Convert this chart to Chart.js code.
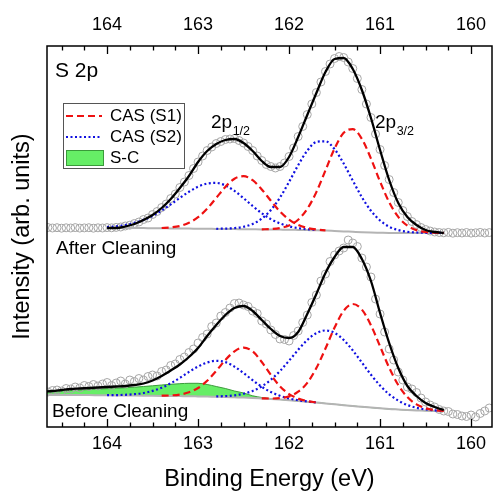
<!DOCTYPE html>
<html>
<head>
<meta charset="utf-8">
<script src="https://cdn.jsdelivr.net/npm/chart.js@4/dist/chart.umd.min.js"></script>
<style>
html,body{margin:0;padding:0;background:#fff;}
canvas{display:block;}
</style>
</head>
<body>
<canvas id="c" width="493" height="494"></canvas>
<script>
// ---------------- DATA (binding energy in eV, intensity in arb. units) ----------------
const X_MIN = 159.77, X_MAX = 164.66;
const Y_MIN = 0, Y_MAX = 381;
const AXIS_TICKS = [160,160.25,160.5,160.75,161,161.25,161.5,161.75,162,162.25,162.5,162.75,163,163.25,163.5,163.75,164,164.25,164.5];

// measured points (open circles)
const DATA_E = [164.65,164.60,164.55,164.50,164.45,164.40,164.35,164.30,164.25,164.20,
164.15,164.10,164.05,164.00,163.95,163.90,163.85,163.80,163.75,163.70,
163.65,163.60,163.55,163.50,163.45,163.40,163.35,163.30,163.25,163.20,
163.15,163.10,163.05,163.00,162.95,162.90,162.85,162.80,162.75,162.70,
162.65,162.60,162.55,162.50,162.45,162.40,162.35,162.30,162.25,162.20,
162.15,162.10,162.05,162.00,161.95,161.90,161.85,161.80,161.75,161.70,
161.65,161.60,161.55,161.50,161.45,161.40,161.35,161.30,161.25,161.20,
161.15,161.10,161.05,161.00,160.95,160.90,160.85,160.80,160.75,160.70,
160.65,160.60,160.55,160.50,160.45,160.40,160.35,160.30,160.25,160.20,
160.15,160.10,160.05,160.00,159.95,159.90,159.85,159.80];
const AFTER_DATA = [199.5,199.0,199.3,198.8,199.2,199.0,199.4,198.9,199.1,199.3,
198.8,199.2,199.0,199.4,199.2,199.6,200.0,201.0,201.8,203.5,
205.0,207.5,209.0,212.5,215.5,219.5,223.0,228.5,233.0,239.5,
245.0,251.5,258.5,265.0,271.0,276.5,280.0,283.5,285.5,287.5,
288.0,288.5,286.5,284.0,280.5,276.5,271.0,266.5,262.5,260.5,
259.0,260.5,264.0,270.5,279.0,290.5,300.5,312.5,323.0,334.5,
345.0,355.5,363.0,368.5,370.5,369.5,365.0,358.5,348.5,337.5,
323.0,309.5,293.0,277.5,261.5,247.5,234.5,224.5,216.5,210.5,
205.5,202.5,199.5,197.5,196.0,195.0,194.5,194.2,194.6,193.8,
194.3,194.0,194.5,193.9,194.2,194.6,194.0,194.4];
const BEFORE_DATA = [35.0,36.5,37.0,36.0,38.5,38.0,40.0,39.0,41.5,40.5,
42.5,41.0,43.0,44.5,41.5,44.0,46.0,43.0,47.0,45.5,
48.5,47.0,50.5,52.0,51.0,55.5,57.0,61.5,63.0,67.5,
70.0,74.5,78.0,84.0,89.5,93.0,100.5,104.0,111.0,114.5,
119.0,123.5,124.0,122.0,120.5,116.0,113.5,106.0,103.0,97.0,
92.5,88.0,87.5,86.0,91.5,96.0,104.5,112.0,124.5,132.0,
146.0,153.0,165.5,172.0,176.0,179.0,187.0,184.0,180.5,169.0,
160.0,150.0,128.0,113.0,95.0,78.0,67.0,55.0,47.0,40.0,
38.0,34.5,29.0,25.0,22.0,20.0,17.5,16.0,15.5,13.0,
12.5,11.0,10.5,12.0,10.0,13.5,16.0,19.0];

// fitted curves, "After Cleaning"
const FIT_E_AFTER = [164.0,163.9,163.8,163.7,163.6,163.5,163.4,163.3,163.2,163.1,
163.0,162.9,162.8,162.7,162.6,162.5,162.4,162.3,162.2,162.1,
162.0,161.9,161.8,161.7,161.6,161.5,161.4,161.3,161.2,161.1,
161.0,160.9,160.8,160.7,160.6,160.5,160.4,160.3];
const AFTER_FIT = [199,199,200.5,203,207,212,219,228,239,251,
265,276,283,287,288,284,276,266,260,260,
270,290,312,334,355,368,369,358,337,309,
277,247,224,210,202,197,195,194];
const AFTER_BG = [199.0,199.0,199.0,199.0,198.9,198.8,198.7,198.6,198.5,198.4,
198.3,198.2,198.1,198.0,197.9,197.8,197.7,197.6,197.5,197.4,
197.3,197.1,196.9,196.7,196.4,196.0,195.6,195.2,194.8,194.5,
194.3,194.1,194.0,194.0,194.0,194.0,194.0,194.0];
const AFTER_S1_A = [null,null,null,null,null,null,199.0,199.6,201.0,204.2,
209.8,218.3,229.1,240.1,248.3,250.8,246.8,237.6,226.2,215.5,
207.4,202.0,199.0,197.5,196.7,null,null,null,null,null,
null,null,null,null,null,null,null,null];
const AFTER_S1_B = [null,null,null,null,null,null,null,null,null,null,
null,null,null,null,null,null,null,197.7,198.0,199.0,
201.6,207.3,218.1,234.9,256.6,278.5,294.2,297.9,288.1,268.4,
245.4,224.8,210.1,201.4,196.9,195.0,194.3,194.1];
const AFTER_S2_A = [199.9,200.7,202.0,204.1,207.1,211.2,216.5,222.6,229.1,235.2,
240.3,243.4,244.1,241.5,236.1,228.8,221.0,213.8,207.9,203.6,
200.7,198.9,197.7,197.1,null,null,null,null,null,null,
null,null,null,null,null,null,null,null];
const AFTER_S2_B = [null,null,null,null,null,null,null,null,null,null,
null,null,198.2,198.4,198.9,200.2,203.1,208.3,217.0,229.4,
245.1,261.8,276.3,285.1,285.7,277.8,263.5,246.4,229.8,216.2,
206.5,200.3,196.9,195.2,194.5,194.2,194.1,194.0];

// fitted curves, "Before Cleaning"
const FIT_E_BEFORE = [164.7,164.6,164.5,164.4,164.3,164.2,164.1,164.0,163.9,163.8,
163.7,163.6,163.5,163.4,163.3,163.2,163.1,163.0,162.9,162.8,
162.7,162.6,162.5,162.4,162.3,162.2,162.1,162.0,161.9,161.8,
161.7,161.6,161.5,161.4,161.3,161.2,161.1,161.0,160.9,160.8,
160.7,160.6,160.5,160.4,160.3];
const BEFORE_FIT = [35.5,36,37,38,38.5,39,39.5,40,40.5,41,
42,43.5,46.5,51,56.5,62.5,70,79,91,102,
112,119,121,116,107,98,91,89,95,113,
133,154,170,180,180,168,146,114,84,59,
41,31,24,20,17];
const BEFORE_BG = [32.0,32.0,32.0,32.0,31.9,31.9,31.8,31.7,31.6,31.5,
31.4,31.3,31.2,31.1,31.0,30.9,30.8,30.6,30.4,30.2,
30.0,29.7,29.4,29.0,28.5,28.0,27.4,26.7,26.0,25.2,
24.4,23.6,22.7,21.8,21.0,20.2,19.4,18.7,18.0,17.5,
17.0,16.6,16.3,16.0,15.8];
const BEFORE_SC = [35.0,35.5,36.0,36.5,37.0,37.5,38.0,38.3,38.8,39.3,
39.8,40.5,41.2,42.0,42.7,43.3,43.7,43.7,42.5,40.5,
38.5,36.0,34.0,31.2,29.5,28.4,27.5,26.7,26.0,25.2,
24.4,23.6,22.7,21.8,21.0,20.2,19.4,18.7,18.0,17.5,
17.0,16.6,16.3,16.0,15.8];
const BEFORE_S1_A = [null,null,null,null,null,null,null,null,null,null,
null,null,null,31.3,31.6,32.5,34.7,39.0,46.2,56.1,
67.0,75.7,79.4,75.6,65.0,52.1,40.7,32.9,28.4,26.0,
24.6,null,null,null,null,null,null,null,null,null,
null,null,null,null,null];
const BEFORE_S1_B = [null,null,null,null,null,null,null,null,null,null,
null,null,null,null,null,null,null,null,null,null,
null,null,null,null,28.6,28.5,28.9,30.6,35.3,44.2,
58.9,78.5,99.4,116.2,123.0,117.4,101.7,80.6,59.3,42.0,
29.9,22.6,18.8,16.9,16.1];
const BEFORE_S2_A = [null,null,null,null,null,null,null,31.8,31.9,32.2,
32.8,34.0,36.1,39.3,43.7,49.1,55.1,60.5,64.5,66.2,
64.9,60.4,53.9,46.8,40.2,35.0,31.2,28.5,26.8,25.5,
24.5,null,null,null,null,null,null,null,null,null,
null,null,null,null,null];
const BEFORE_S2_B = [null,null,null,null,null,null,null,null,null,null,
null,null,null,null,null,null,null,null,null,30.6,
30.9,31.7,33.3,36.1,40.6,47.3,56.0,66.3,77.2,87.0,
93.8,96.5,94.1,87.1,76.6,64.5,52.3,41.5,32.7,26.4,
22.0,19.2,17.6,16.6,16.1];

const LEGEND_LABELS = ['CAS (S1)', 'CAS (S2)', 'S-C'];

// ---------------- STYLE ----------------
const FONT = '"Liberation Sans", Arial, Helvetica, sans-serif';
const RED = '#ee1111', BLUE = '#1010e0', GREEN_FILL = '#66ee66', GREEN_LINE = '#3a9a3a';
const GRAY_BG = '#b4b4b4', GRAY_PT = '#a6a6a6';

Chart.defaults.font.family = FONT;
Chart.defaults.color = '#000';

const pts = (E, V) => E.map((e, i) => ({x: e, y: V[i]}));

function curve(E, V, color, dash, width, order) {
  return {data: pts(E, V), borderColor: color, borderDash: dash, borderWidth: width,
    pointRadius: 0, fill: false, cubicInterpolationMode: 'monotone', order: order, spanGaps: false};
}

const datasets = [
  {data: pts(DATA_E, AFTER_DATA), showLine: false, pointRadius: 4, pointBorderWidth: 1,
   pointBorderColor: GRAY_PT, pointBackgroundColor: 'rgba(255,255,255,0)', order: 35},
  {data: pts(DATA_E, BEFORE_DATA), showLine: false, pointRadius: 4, pointBorderWidth: 1,
   pointBorderColor: GRAY_PT, pointBackgroundColor: 'rgba(255,255,255,0)', order: 35},
  curve(FIT_E_BEFORE, BEFORE_BG, GRAY_BG, [], 2, 30),
  Object.assign(curve(FIT_E_BEFORE, BEFORE_SC, GREEN_LINE, [], 1, 40),
    {fill: 2, backgroundColor: GREEN_FILL}),
  curve(FIT_E_AFTER, AFTER_BG, GRAY_BG, [], 2, 30),
  curve(FIT_E_AFTER, AFTER_S1_A, RED, [7, 4], 2.2, 20),
  curve(FIT_E_AFTER, AFTER_S1_B, RED, [7, 4], 2.2, 20),
  curve(FIT_E_AFTER, AFTER_S2_A, BLUE, [2, 2.5], 2.2, 20),
  curve(FIT_E_AFTER, AFTER_S2_B, BLUE, [2, 2.5], 2.2, 20),
  curve(FIT_E_BEFORE, BEFORE_S1_A, RED, [7, 4], 2.2, 20),
  curve(FIT_E_BEFORE, BEFORE_S1_B, RED, [7, 4], 2.2, 20),
  curve(FIT_E_BEFORE, BEFORE_S2_A, BLUE, [2, 2.5], 2.2, 20),
  curve(FIT_E_BEFORE, BEFORE_S2_B, BLUE, [2, 2.5], 2.2, 20),
  curve(FIT_E_AFTER, AFTER_FIT, '#000', [], 2.3, 10),
  curve(FIT_E_BEFORE, BEFORE_FIT, '#000', [], 2.3, 10)
];

function setTicks(scale) { scale.ticks = AXIS_TICKS.map(v => ({value: v})); }
const tickLabel = v => Number.isInteger(v) ? String(v) : '';
function fitH(h) {
  return s => { s.height = h; s.paddingLeft = 0; s.paddingRight = 0; };
}

const decorations = {
  id: 'decorations',
  afterDatasetsDraw(chart) {
    const {ctx, chartArea: a, scales} = chart;
    ctx.save();
    ctx.strokeStyle = '#000';
    ctx.lineWidth = 1.5;
    ctx.setLineDash([]);
    ctx.strokeRect(a.left, a.top, a.right - a.left, a.bottom - a.top);
    ctx.lineWidth = 1.3;
    for (const id of ['x', 'x2']) {
      const s = scales[id];
      s.ticks.forEach(t => {
        const px = Math.round(s.getPixelForValue(t.value)) + 0.5;
        const len = Number.isInteger(t.value) ? 8 : 4.5;
        ctx.beginPath();
        if (id === 'x') { ctx.moveTo(px, a.bottom); ctx.lineTo(px, a.bottom - len); }
        else { ctx.moveTo(px, a.top); ctx.lineTo(px, a.top + len); }
        ctx.stroke();
      });
    }
    ctx.fillStyle = '#000';
    ctx.textBaseline = 'alphabetic';
    ctx.textAlign = 'left';
    ctx.font = '21px ' + FONT;
    ctx.fillText('S 2p', a.left + 8, 77);
    const sub = (main, s, x, y) => {
      ctx.font = '19px ' + FONT;
      ctx.fillText(main, x, y);
      const w = ctx.measureText(main).width;
      ctx.font = '12.5px ' + FONT;
      ctx.fillText(s, x + w + 0.5, y + 7);
    };
    sub('2p', '1/2', 211, 127.5);
    sub('2p', '3/2', 375, 127.5);
    ctx.font = '19px ' + FONT;
    ctx.fillText('After Cleaning', 56, 254);
    ctx.fillText('Before Cleaning', 52, 417);
    ctx.strokeStyle = '#555';
    ctx.lineWidth = 1;
    ctx.strokeRect(63.5, 103.5, 121, 65);
    ctx.lineWidth = 2.2;
    ctx.strokeStyle = RED; ctx.setLineDash([7, 4]);
    ctx.beginPath(); ctx.moveTo(66, 116); ctx.lineTo(102, 116); ctx.stroke();
    ctx.strokeStyle = BLUE; ctx.setLineDash([2, 2.5]);
    ctx.beginPath(); ctx.moveTo(66, 137); ctx.lineTo(102, 137); ctx.stroke();
    ctx.setLineDash([]);
    ctx.fillStyle = GREEN_FILL; ctx.fillRect(66, 150, 38, 16);
    ctx.strokeStyle = GREEN_LINE; ctx.lineWidth = 1; ctx.strokeRect(66.5, 150.5, 37, 15);
    ctx.fillStyle = '#000';
    ctx.font = '17px ' + FONT;
    ctx.textBaseline = 'middle';
    ctx.fillText(LEGEND_LABELS[0], 110, 116);
    ctx.fillText(LEGEND_LABELS[1], 110, 137);
    ctx.fillText(LEGEND_LABELS[2], 110, 158.5);
    ctx.restore();
  }
};

new Chart(document.getElementById('c'), {
  type: 'line',
  data: {datasets},
  options: {
    responsive: false,
    devicePixelRatio: 1,
    animation: false,
    layout: {autoPadding: false, padding: {left: 0, right: 1, top: 0, bottom: 0}},
    plugins: {legend: {display: false}, tooltip: {enabled: false}},
    scales: {
      x: {
        type: 'linear', position: 'bottom', reverse: true, min: X_MIN, max: X_MAX,
        afterBuildTicks: setTicks,
        afterFit: fitH(67),
        grid: {display: false, drawTicks: false},
        border: {display: false},
        ticks: {autoSkip: false, maxRotation: 0, padding: 6, font: {size: 18}, color: '#000', callback: tickLabel},
        title: {display: true, text: 'Binding Energy (eV)', font: {size: 23.5}, color: '#000', padding: {top: 0, bottom: 0}}
      },
      x2: {
        type: 'linear', position: 'top', reverse: true, min: X_MIN, max: X_MAX,
        afterBuildTicks: setTicks,
        afterFit: fitH(46),
        grid: {display: false, drawTicks: false},
        border: {display: false},
        ticks: {autoSkip: false, maxRotation: 0, padding: 10, font: {size: 18}, color: '#000', callback: tickLabel}
      },
      y: {
        type: 'linear', position: 'left', min: Y_MIN, max: Y_MAX,
        afterFit: s => { s.width = 47; },
        grid: {display: false, drawTicks: false},
        border: {display: false},
        ticks: {display: false},
        title: {display: true, text: 'Intensity (arb. units)', font: {size: 23.5}, color: '#000', padding: {top: 8, bottom: 0}}
      }
    }
  },
  plugins: [decorations]
});
</script>
</body>
</html>
